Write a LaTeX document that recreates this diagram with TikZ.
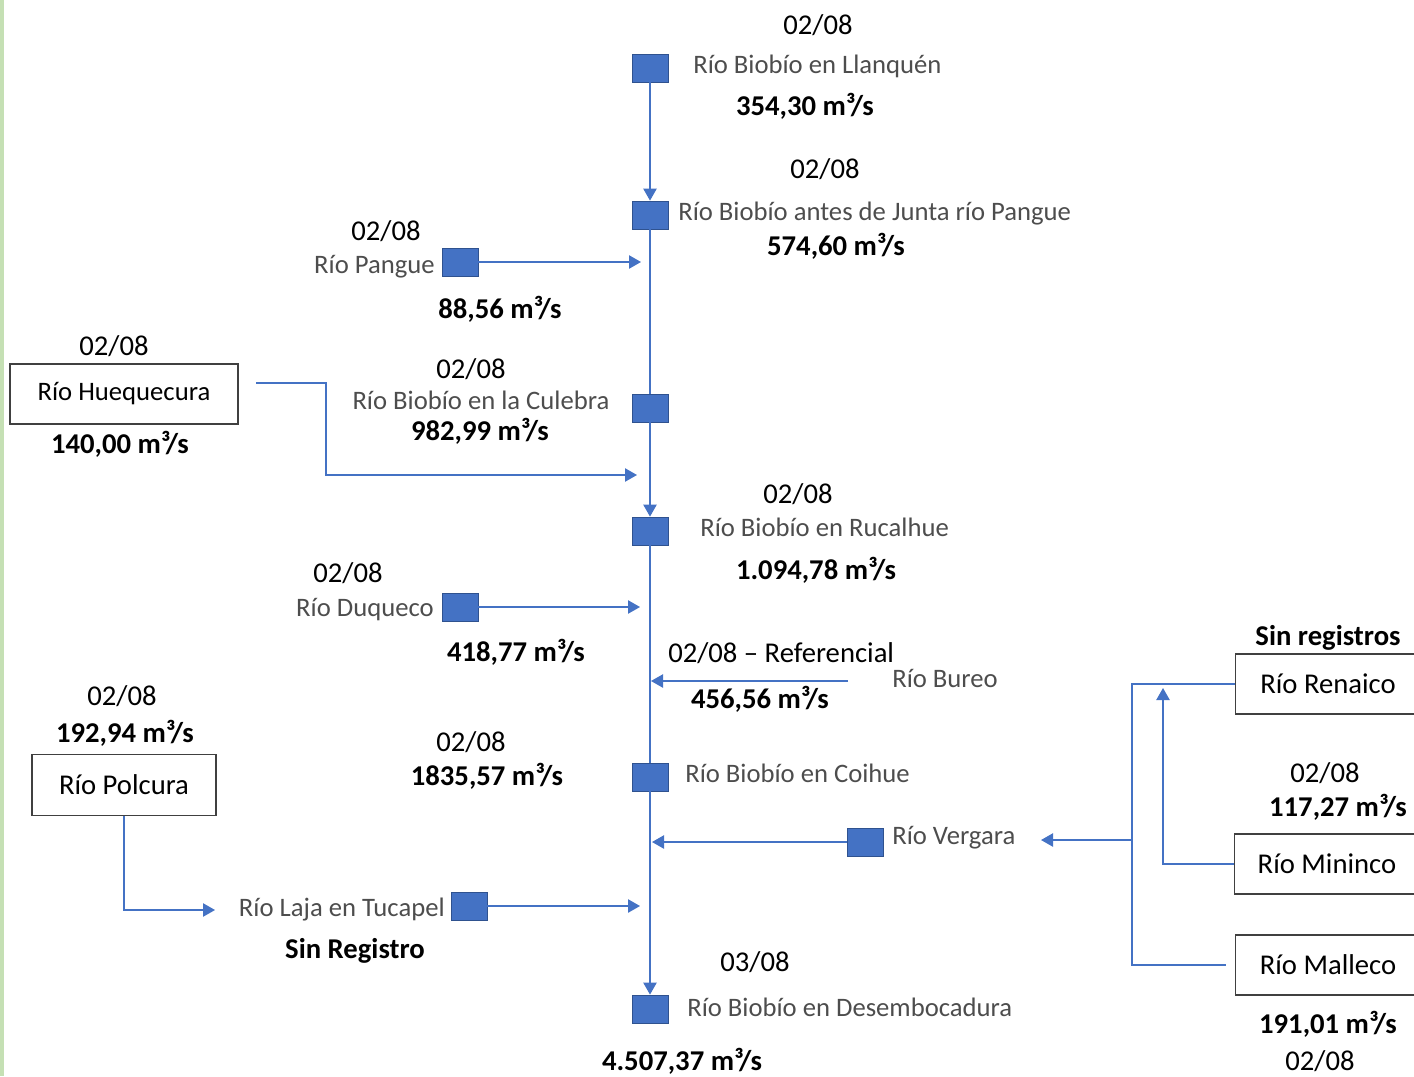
\documentclass[tikz,border=0pt]{standalone}
\usepackage{fontspec}
\setmainfont{Carlito}
\usetikzlibrary{arrows.meta}
\definecolor{rioblue}{HTML}{4472C4}
\definecolor{rioedge}{HTML}{2F528F}
\definecolor{riogray}{HTML}{4D4D4D}
\definecolor{barverde}{HTML}{C5E0B4}
\tikzset{
  estacion/.style={draw=rioedge, fill=rioblue, line width=0.6pt, minimum width=27pt, minimum height=21pt, inner sep=0pt},
  nombre/.style={text=riogray, font=\fontsize{20}{24}\selectfont, inner sep=0pt},
  fecha/.style={font=\fontsize{21.5}{26}\selectfont, inner sep=0pt},
  caudal/.style={font=\fontsize{21.5}{26}\selectfont\bfseries, inner sep=0pt},
  caja/.style={draw=black!75, line width=0.8pt, minimum height=45pt, inner sep=0pt, font=\fontsize{21.5}{26}\selectfont},
  flujo/.style={draw=rioblue, line width=1pt},
  flecha/.style={flujo, -{Triangle[length=9pt,width=10pt]}},
}
\begin{document}
\begin{tikzpicture}[x=0.75pt,y=0.75pt,yscale=-1]
\useasboundingbox (0,0) rectangle (1414,1076);
\clip (0,0) rectangle (1414,1076);
\fill[barverde] (0,0) rectangle (4,1076);

\node[estacion] (llanquen) at (650,68) {};
\node[estacion] (junta) at (650,215) {};
\node[estacion] (culebra) at (650,408) {};
\node[estacion] (rucalhue) at (650,531) {};
\node[estacion] (coihue) at (650,777) {};
\node[estacion] (desemb) at (650,1009) {};
\node[estacion] (pangue) at (460,262) {};
\node[estacion] (duqueco) at (460,607) {};
\node[estacion] (vergara) at (865,842) {};
\node[estacion] (laja) at (469,906) {};

\node[caja, minimum width=171pt, font=\fontsize{20}{24}\selectfont] (huequecura) at (124,394) {Río Huequecura\hspace{10pt}};
\node[caja, minimum width=138pt, minimum height=45.75pt] (polcura) at (124,785) {Río Polcura\hspace{8pt}};
\node[caja, minimum width=139pt] (renaico) at (1328,684) {Río Renaico\hspace{6pt}};
\node[caja, minimum width=139pt] (mininco) at (1327,864) {Río Mininco\hspace{6pt}};
\node[caja, minimum width=139pt] (malleco) at (1328,965) {Río Malleco\hspace{4pt}};

\node[fecha, anchor=base] (fLlanquen) at (818,34) {02/08};
\node[nombre, anchor=base west] (nLlanquen) at (693,73) {Río Biobío en Llanquén};
\node[caudal, anchor=base] (qLlanquen) at (805,115) {354,30 m³/s};

\node[fecha, anchor=base] (fJunta) at (825,178) {02/08};
\node[nombre, anchor=base west] (nJunta) at (678,220) {Río Biobío antes de Junta río Pangue};
\node[caudal, anchor=base] (qJunta) at (836,255) {574,60 m³/s};

\node[fecha, anchor=base] (fPangue) at (386,240) {02/08};
\node[nombre, anchor=base east] (nPangue) at (435,273) {Río Pangue};
\node[caudal, anchor=base] (qPangue) at (500,318) {88,56 m³/s};

\node[fecha, anchor=base] (fHuequecura) at (114,355) {02/08};
\node[caudal, anchor=base] (qHuequecura) at (120,453) {140,00 m³/s};

\node[fecha, anchor=base] (fCulebra) at (471,378) {02/08};
\node[nombre, anchor=base] (nCulebra) at (481,409) {Río Biobío en la Culebra};
\node[caudal, anchor=base] (qCulebra) at (480,440) {982,99 m³/s};

\node[fecha, anchor=base] (fRucalhue) at (798,503) {02/08};
\node[nombre, anchor=base west] (nRucalhue) at (700,536) {Río Biobío en Rucalhue};
\node[caudal, anchor=base] (qRucalhue) at (816,579) {1.094,78 m³/s};

\node[fecha, anchor=base] (fDuqueco) at (348,582) {02/08};
\node[nombre, anchor=base east] (nDuqueco) at (434,616) {Río Duqueco};
\node[caudal, anchor=base] (qDuqueco) at (516,661) {418,77 m³/s};

\node[fecha, anchor=base west] (fBureo) at (668,662) {02/08 – Referencial};
\node[nombre, anchor=base west] (nBureo) at (892,687) {Río Bureo};
\node[caudal, anchor=base] (qBureo) at (760,708) {456,56 m³/s};

\node[fecha, anchor=base] (fCoihue) at (471,751) {02/08};
\node[caudal, anchor=base] (qCoihue) at (487,785) {1835,57 m³/s};
\node[nombre, anchor=base west] (nCoihue) at (685,782) {Río Biobío en Coihue};

\node[nombre, anchor=base west] (nVergara) at (892,844) {Río Vergara};

\node[fecha, anchor=base] (fPolcura) at (122,705) {02/08};
\node[caudal, anchor=base] (qPolcura) at (125,742) {192,94 m³/s};

\node[nombre, anchor=base east] (nLaja) at (445,916) {Río Laja en Tucapel};
\node[caudal, anchor=base] (sLaja) at (355,958) {Sin Registro};

\node[fecha, anchor=base] (fDesemb) at (755,971) {03/08};
\node[nombre, anchor=base west] (nDesemb) at (687,1016) {Río Biobío en Desembocadura};
\node[caudal, anchor=base] (qDesemb) at (682,1070) {4.507,37 m³/s};

\node[caudal, anchor=base] (sRenaico) at (1328,645) {Sin registros};
\node[fecha, anchor=base] (fMininco) at (1325,782) {02/08};
\node[caudal, anchor=base] (qMininco) at (1338,816) {117,27 m³/s};
\node[caudal, anchor=base] (qMalleco) at (1328,1033) {191,01 m³/s};
\node[fecha, anchor=base] (fMalleco) at (1320,1070) {02/08};

\coordinate (cPangue) at (641,262);
\coordinate (hueIni) at (256,383);
\coordinate (hueFin) at (637,475);
\coordinate (cDuqueco) at (640,607);
\coordinate (bureoIni) at (848,681);
\coordinate (bureoFin) at (651,681);
\coordinate (vergFin) at (652,842);
\coordinate (union) at (1132,840);
\coordinate (vergFlecha) at (1041,840);
\coordinate (minFin) at (1163,688);
\coordinate (polFin) at (215,910);
\coordinate (cLaja) at (640,906);

\draw[flecha] (llanquen) -- (junta);
\draw[flujo] (junta) -- (culebra);
\draw[flecha] (culebra) -- (rucalhue);
\draw[flujo] (rucalhue) -- (coihue);
\draw[flecha] (coihue) -- (desemb);

\draw[flecha] (pangue) -- (cPangue);
\draw[flecha] (hueIni) -- ++(70,0) |- (hueFin);
\draw[flecha] (duqueco) -- (cDuqueco);
\draw[flecha] (bureoIni) -- (bureoFin);
\draw[flecha] (vergara) -- (vergFin);
\draw[flecha] (polcura) |- (polFin);
\draw[flecha] (laja) -- (cLaja);

\draw[flujo] (renaico.west) -| (union);
\draw[flujo, shorten <=6.75pt] (malleco.west) -| (union);
\draw[flecha] (union) -- (vergFlecha);
\draw[flecha] (mininco.west) -| (minFin);
\end{tikzpicture}
\end{document}
